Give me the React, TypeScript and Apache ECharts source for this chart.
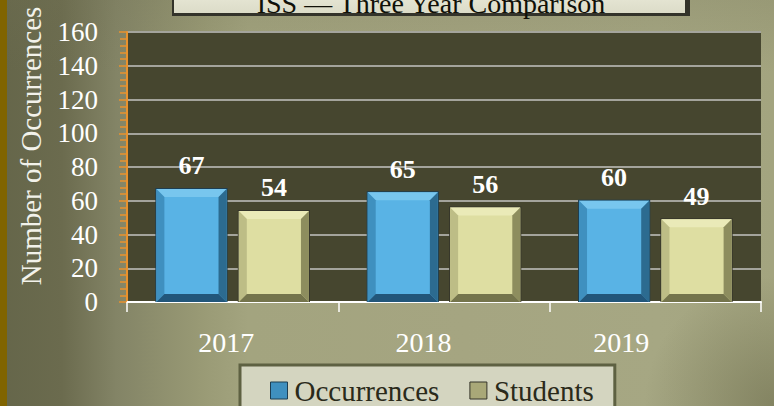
import React, { useEffect, useRef } from "react";
import * as echarts from "echarts";

const years = ["2017", "2018", "2019"];
const occurrences = [67, 65, 60];
const students = [54, 56, 49];
const seriesNames = ["Occurrences", "Students"];
const titleText = "ISS — Three Year Comparison";
const yAxisTitle = "Number of Occurrences";
const yTicks = { min: 0, max: 160, interval: 20 };

const FONT = '"Liberation Serif", "Times New Roman", serif';

const palettes = [
  { face: "#59b3e5", top: "#78c6ee", left: "#3f90bf", right: "#2c6b90", bottom: "#22567a", outline: "#1d3e52", legend: "#3f90bf" },
  { face: "#dedea2", top: "#eaeab8", left: "#bdbd86", right: "#8d8d5e", bottom: "#74744c", outline: "#35352a", legend: "#a9a878" },
];

function makeRender(idx: number) {
  const pal = palettes[idx];
  return (params: any, api: any) => {
    const cat = api.value(0);
    const val = api.value(1);
    const base = api.coord([cat, 0]);
    const top = api.coord([cat, val]);
    const band = api.size([1, 0])[0];
    const barW = band * 0.332;
    const gap = band * 0.058;
    const x0 = base[0] - (2 * barW + gap) / 2 + idx * (barW + gap);
    const x1 = x0 + barW;
    const y0 = top[1];
    const y1 = base[1];
    const b = 8;
    const cx = (x0 + x1) / 2;
    return {
      type: "group",
      children: [
        { type: "rect", shape: { x: x0 - 1, y: y0 - 1, width: barW + 2, height: y1 - y0 + 1 }, style: { fill: pal.outline } },
        { type: "rect", shape: { x: x0, y: y0, width: barW, height: y1 - y0 }, style: { fill: pal.face } },
        { type: "polygon", shape: { points: [[x0, y0], [x1, y0], [x1 - b, y0 + b], [x0 + b, y0 + b]] }, style: { fill: pal.top } },
        { type: "polygon", shape: { points: [[x0, y0], [x0 + b, y0 + b], [x0 + b, y1 - b], [x0, y1]] }, style: { fill: pal.left } },
        { type: "polygon", shape: { points: [[x1, y0], [x1, y1], [x1 - b, y1 - b], [x1 - b, y0 + b]] }, style: { fill: pal.right } },
        { type: "polygon", shape: { points: [[x0, y1], [x0 + b, y1 - b], [x1 - b, y1 - b], [x1, y1]] }, style: { fill: pal.bottom } },
        {
          type: "text",
          style: {
            text: String(val),
            x: cx,
            y: y0 - 10,
            align: "center",
            verticalAlign: "bottom",
            fill: "#ffffff",
            fontSize: 26,
            fontWeight: "bold",
            fontFamily: FONT,
          },
        },
      ],
    };
  };
}

export default function App() {
  const ref = useRef<HTMLDivElement>(null);
  useEffect(() => {
    if (!ref.current) return;
    const chart = echarts.init(ref.current, undefined, { renderer: "svg" });
    const allSeries = [occurrences, students];
    chart.setOption({
      animation: false,
      grid: { left: 127, right: 13, top: 32, bottom: 104, show: true, backgroundColor: "#46462f", borderWidth: 0 },
      legend: {
        top: 365,
        left: 240,
        padding: [11, 21, 25, 30],
        itemGap: 30,
        itemWidth: 17,
        itemHeight: 17,
        backgroundColor: "#d4d5c0",
        borderColor: "#5e6142",
        borderWidth: 3,
        textStyle: { fontFamily: FONT, fontSize: 29, color: "#2a2a1a", padding: [0, 0, 0, 2] },
        data: seriesNames.map((n, i) => ({ name: n, icon: "rect", itemStyle: { color: palettes[i].legend, borderColor: palettes[i].outline, borderWidth: 1 } })),
      },
      xAxis: {
        type: "category",
        data: years,
        axisLine: { lineStyle: { color: "#ffffff", width: 2 } },
        axisTick: { show: true, length: 10, lineStyle: { color: "#ffffff", width: 1.5 } },
        axisLabel: {
          margin: 26,
          color: "#ffffff",
          fontFamily: FONT,
          fontSize: 28,
          formatter: (v: string, i: number) => `{l${i}|${v}}`,
          rich: {
            l0: { fontFamily: FONT, fontSize: 28, color: "#ffffff", padding: [0, 13, 0, 0] },
            l1: { fontFamily: FONT, fontSize: 28, color: "#ffffff", padding: [0, 41, 0, 0] },
            l2: { fontFamily: FONT, fontSize: 28, color: "#ffffff", padding: [0, 68, 0, 0] },
          },
        },
        splitLine: { show: false },
      },
      yAxis: {
        type: "value",
        min: yTicks.min,
        max: yTicks.max,
        interval: yTicks.interval,
        name: yAxisTitle,
        nameLocation: "middle",
        nameGap: 82,
        nameTextStyle: { fontFamily: FONT, fontSize: 29, color: "#f2f2ea", padding: [0, 0, 0, 42] },
        axisLine: { show: true, lineStyle: { color: "#e8922e", width: 2 } },
        axisTick: { show: true, length: 8, lineStyle: { color: "#e8922e", width: 1.5 } },
        minorTick: { show: true, splitNumber: 5, length: 7, lineStyle: { color: "#e8922e", width: 1.5 } },
        axisLabel: { margin: 29, color: "#ffffff", fontFamily: FONT, fontSize: 27 },
        splitLine: { show: true, lineStyle: { color: "#a4a49c", width: 2 } },
      },
      graphic: [
        { type: "rect", shape: { x: 172, y: -20, width: 518, height: 36 }, style: { fill: "#33332a" }, z: 10 },
        {
          type: "rect",
          shape: { x: 174, y: -20, width: 511, height: 33 },
          style: {
            fill: new echarts.graphic.LinearGradient(0, 0, 0, 1, [
              { offset: 0, color: "#efefe0" },
              { offset: 1, color: "#dcdcc8" },
            ]),
          },
          z: 11,
        },
        {
          type: "text",
          x: 431,
          y: 17.5,
          style: { text: titleText, align: "center", verticalAlign: "bottom", fontFamily: FONT, fontSize: 28, fill: "#111108" },
          z: 12,
        },
      ],
      series: seriesNames.map((name, i) => ({
        type: "custom",
        name,
        itemStyle: { color: palettes[i].legend },
        encode: { x: 0, y: 1 },
        data: allSeries[i].map((v, j) => [j, v]),
        renderItem: makeRender(i),
      })),
    });
    return () => chart.dispose();
  }, []);
  return (
    <div
      ref={ref}
      style={{
        position: "absolute",
        left: 0,
        top: 0,
        width: 774,
        height: 406,
        background:
          "linear-gradient(to right, #806400 0px, #806400 7px, rgba(0,0,0,0) 7px), radial-gradient(circle at 100% 100%, rgba(110,110,78,0.6) 0px, rgba(110,110,78,0) 130px), linear-gradient(to bottom, rgba(115,115,85,0.22) 0%, rgba(115,115,85,0) 18%), linear-gradient(to right, #65664a 0%, #6b6b4e 8%, #838466 15%, #999a75 26%, #a3a47f 32%, #a5a581 60%, #a6a783 85%, #a3a47f 100%)",
      }}
    />
  );
}
